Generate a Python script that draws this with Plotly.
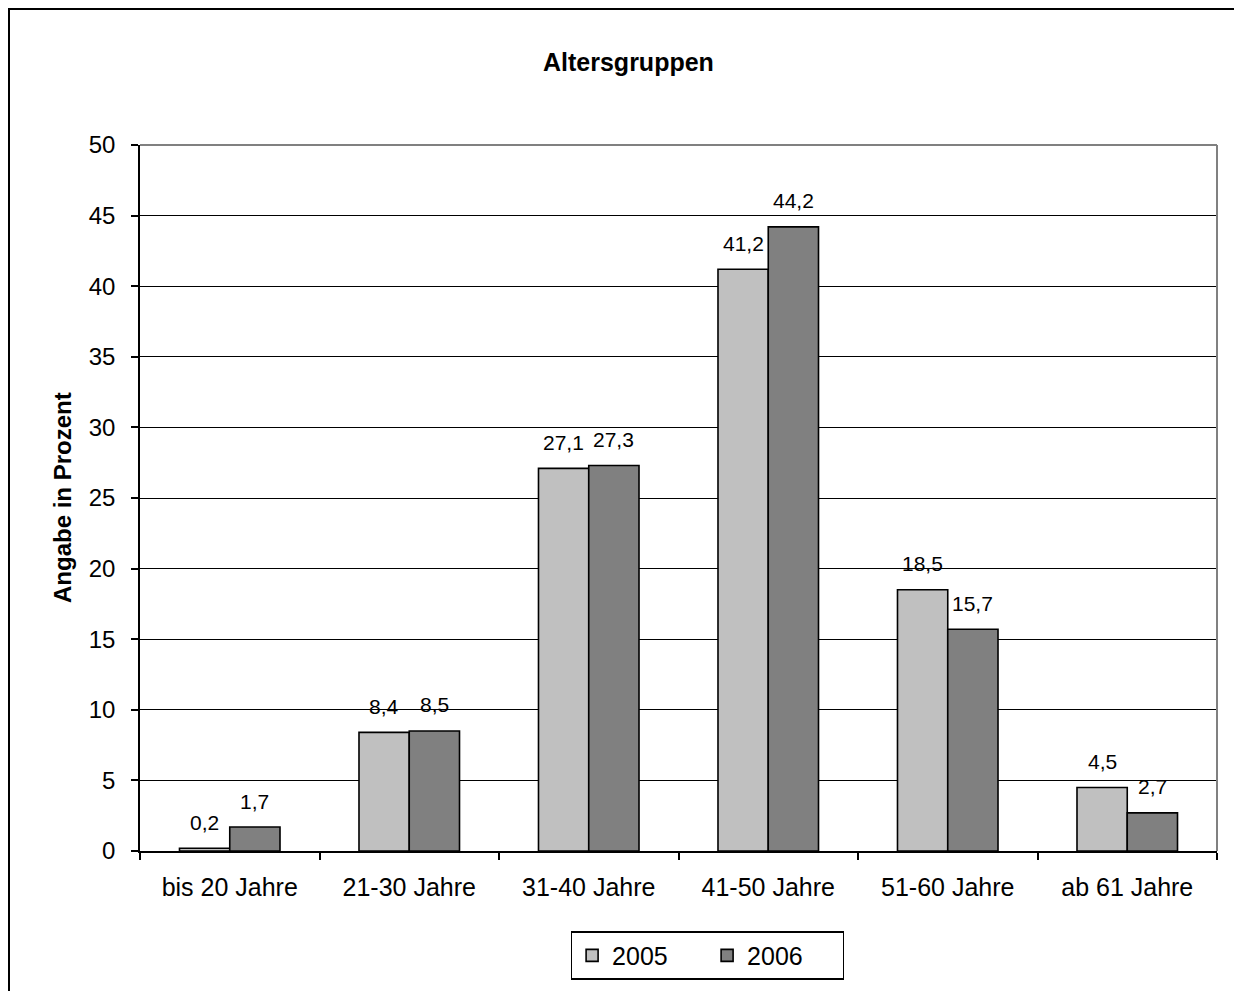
import plotly.graph_objects as go

# Daten
categories = ['bis 20 Jahre', '21-30 Jahre', '31-40 Jahre', '41-50 Jahre', '51-60 Jahre', 'ab 61 Jahre']
werte_2005 = [0.2, 8.4, 27.1, 41.2, 18.5, 4.5]
werte_2006 = [1.7, 8.5, 27.3, 44.2, 15.7, 2.7]
serien = [('2005', werte_2005, '#C0C0C0'), ('2006', werte_2006, '#808080')]

FONT = 'Liberation Sans, Arial, sans-serif'
W, H = 1242, 991
L, R, T, B = 132, 33, 137, 148
PW, PH = W - L - R, H - T - B


def px2paper(x, y):
    """Pixelkoordinaten (Figur) -> Paper-Koordinaten"""
    return (x - L) / PW, (H - B - y) / PH


fig = go.Figure()
for name, vals, color in serien:
    fig.add_trace(go.Bar(x=categories, y=vals, name=name, marker=dict(color=color, line=dict(color='black', width=1.6))))

# Datenbeschriftungen (Excel-Stil, mit Abstand über dem Balken)
bar_w = PW / len(categories) * 0.56 / 2
annotations = []
for i, (name, vals, color) in enumerate(serien):
    for cat, v in zip(categories, vals):
        annotations.append(dict(x=cat, y=v, xref='x', yref='y', text=f'{v:.1f}'.replace('.', ','), showarrow=False,
                                xshift=(i - 0.5) * bar_w, yshift=26, yanchor='middle',
                                font=dict(family=FONT, size=21, color='black')))

# Titel und Achsentitel
tx, ty = px2paper(620, 54)
annotations.append(dict(x=tx, y=ty, xref='paper', yref='paper', text='<b>Altersgruppen</b>', showarrow=False,
                        xanchor='center', yanchor='middle', font=dict(family=FONT, size=25, color='black')))
ax, ay = px2paper(54, 0)
annotations.append(dict(x=ax, y=0.5, xref='paper', yref='paper', text='<b>Angabe in Prozent</b>', showarrow=False,
                        textangle=-90, xanchor='center', yanchor='middle', font=dict(family=FONT, size=24, color='black')))

# Rahmen: Diagramm außen, Zeichnungsfläche oben/rechts grau
x0, y0 = px2paper(1, 1)
x1, y1 = px2paper(W + 20, H + 20)
shapes = [
    dict(type='rect', xref='paper', yref='paper', x0=x0, y0=y1, x1=x1, y1=y0, line=dict(color='black', width=2), layer='above'),
    dict(type='line', xref='paper', yref='paper', x0=0, x1=1, y0=1, y1=1, line=dict(color='#808080', width=2)),
    dict(type='line', xref='paper', yref='paper', x0=1, x1=1, y0=0, y1=1, line=dict(color='#808080', width=2)),
]

lx, _ = px2paper(699.5, 0)
_, ly = px2paper(0, 923)
fig.update_layout(
    width=W, height=H, margin=dict(l=L, r=R, t=T, b=B),
    paper_bgcolor='white', plot_bgcolor='white',
    barmode='group', bargap=0.44, bargroupgap=0,
    font=dict(family=FONT, size=24, color='black'),
    xaxis=dict(showline=True, linecolor='black', linewidth=1.6, ticks='outside', tickson='boundaries', ticklen=7,
               tickcolor='black', tickwidth=1.6, tickfont=dict(size=25), showgrid=False, ticklabelstandoff=13),
    yaxis=dict(range=[0, 50], dtick=5, showline=True, linecolor='black', linewidth=1.6, ticks='outside', ticklen=7,
               tickcolor='black', tickwidth=1.6, tickfont=dict(size=24), showgrid=True, gridcolor='black', gridwidth=1.3,
               zeroline=False, ticklabelstandoff=11),
    legend=dict(orientation='h', x=lx, xanchor='center', y=ly, yanchor='top',
                bordercolor='black', borderwidth=1.6, font=dict(size=25), traceorder='normal', entrywidth=90),
    annotations=annotations, shapes=shapes,
)

fig.write_html('out.html')
